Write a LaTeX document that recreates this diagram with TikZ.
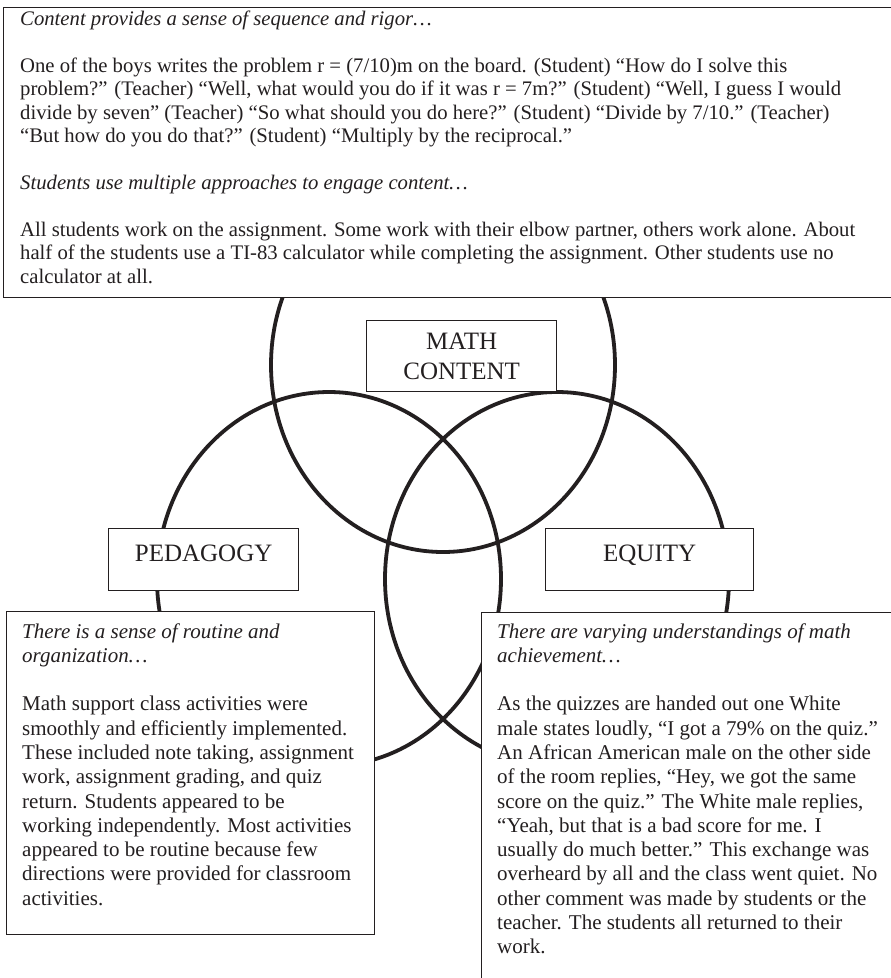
\documentclass[tikz,border=0pt]{standalone}
\usepackage{fontspec}
\setmainfont{Liberation Serif}
\usetikzlibrary{positioning}
\definecolor{ink}{HTML}{231F20}

\begin{document}
\begin{tikzpicture}[
  x=1pt,y=-1pt,
  ring/.style={draw=ink,line width=3.8pt},
  panel/.style={draw=ink,line width=1.3pt,fill=white,anchor=north west,inner sep=0pt},
  tag/.style={panel,text=ink,align=center,font=\fontsize{25}{30}\selectfont},
  onerow/.style={text height=17pt,text depth=14pt},
  note/.style={anchor=north west,inner sep=0pt,align=left,text=ink,font=\fontsize{21}{24.3}\selectfont}
]
  \clip (0,0) rectangle (891,978);
  \fill[white] (0,0) rectangle (891,978);

  % The three sets.
  \draw[ring] (443,365) ellipse [x radius=172,y radius=187];
  \draw[ring] (329,579) ellipse [x radius=172,y radius=187];
  \draw[ring] (557,579) ellipse [x radius=172,y radius=187];

  % Set labels.
  \node[tag,minimum width=190pt,minimum height=71pt] (content) at (366,320) {MATH\\CONTENT};
  \node[tag,onerow,minimum width=190pt,minimum height=62pt] (pedagogy) at (108,528) {PEDAGOGY};
  \node[tag,onerow,minimum width=208pt,minimum height=62pt] (equity) at (545,528) {EQUITY};

  % Observation boxes.
  \node[panel,minimum width=900pt,minimum height=290pt] (content-box) at (3,7) {};
  \node[panel,minimum width=368pt,minimum height=323pt] (pedagogy-box) at (6,611) {};
  \node[panel,minimum width=420pt,minimum height=400pt] (equity-box) at (481,612) {};

  \node[note,font=\fontsize{20.7}{23.4}\selectfont] (content-text) at (20,11)
    {\textit{Content provides a sense of sequence and rigor…}\\[23.4pt]
     One of the boys writes the problem r = (7/10)m on the board. (Student) “How do I solve this\\
     problem?” (Teacher) “Well, what would you do if it was r = 7m?” (Student) “Well, I guess I would\\
     divide by seven” (Teacher) “So what should you do here?” (Student) “Divide by 7/10.” (Teacher)\\
     “But how do you do that?” (Student) “Multiply by the reciprocal.”\\[23.4pt]
     \textit{Students use multiple approaches to engage content…}\\[23.4pt]
     All students work on the assignment. Some work with their elbow partner, others work alone. About\\
     half of the students use a TI-83 calculator while completing the assignment. Other students use no\\
     calculator at all.};

  \node[note] (pedagogy-text) at (22,623)
    {\textit{There is a sense of routine and}\\
     \textit{organization…}\\[24.3pt]
     Math support class activities were\\
     smoothly and efficiently implemented.\\
     These included note taking, assignment\\
     work, assignment grading, and quiz\\
     return. Students appeared to be\\
     working independently. Most activities\\
     appeared to be routine because few\\
     directions were provided for classroom\\
     activities.};

  \node[note] (equity-text) at (497,623)
    {\textit{There are varying understandings of math}\\
     \textit{achievement…}\\[24.3pt]
     As the quizzes are handed out one White\\
     male states loudly, “I got a 79\% on the quiz.”\\
     An African American male on the other side\\
     of the room replies, “Hey, we got the same\\
     score on the quiz.” The White male replies,\\
     “Yeah, but that is a bad score for me. I\\
     usually do much better.” This exchange was\\
     overheard by all and the class went quiet. No\\
     other comment was made by students or the\\
     teacher. The students all returned to their\\
     work.};
\end{tikzpicture}
\end{document}
